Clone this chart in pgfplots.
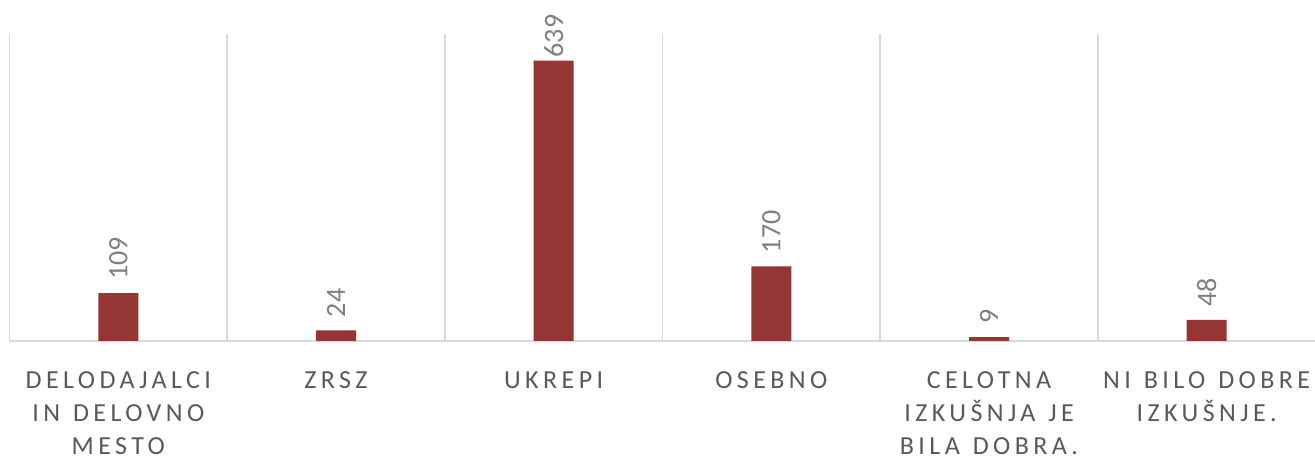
\documentclass[border=0pt]{standalone}
\usepackage{pgfplots}
\usepackage{pgfplotstable}
\pgfplotsset{compat=1.18}
\usepackage{fontspec}
\setmainfont{Carlito}
\newfontfamily\spaced[LetterSpace=17,WordSpace=1.25]{Carlito}
\definecolor{barred}{HTML}{943634}
\definecolor{gridgray}{HTML}{D9D9D9}
\definecolor{labgray}{HTML}{595959}
\definecolor{valgray}{HTML}{7F7F7F}
\pgfplotstableread{
x y off
0 109 6.5
1 24 6.5
2 639 1.5
3 170 6.5
4 9 6.5
5 48 6.5
}\datatable
\begin{document}
\begin{tikzpicture}
\begin{axis}[name=ax, scale only axis, width=653pt, height=153.5pt,
  xmin=-0.5, xmax=5.5, ymin=0, ymax=700,
  axis x line*=bottom, axis y line=none,
  x axis line style={draw=gridgray, line width=0.75pt},
  ybar, bar width=20pt,
  /pgf/number format/assume math mode=true,
  xtick={0,1,2,3,4,5},
  xticklabels={{DELODAJALCI\\IN DELOVNO\\MESTO},{ZRSZ},{UKREPI},{OSEBNO},{CELOTNA\\IZKUŠNJA JE\\BILA DOBRA.},{NI BILO DOBRE\\IZKUŠNJE.}},
  major tick length=0pt, minor tick length=0pt,
  minor xtick={-0.5,0.5,1.5,2.5,3.5,4.5,5.5},
  xminorgrids, minor grid style={draw=gridgray, line width=0.75pt},
  xticklabel style={font=\spaced\fontsize{13pt}{16.5pt}\selectfont, text=labgray, align=center, inner sep=0pt, anchor=north, yshift=-15pt},
  ytick=\empty,
  clip=false,
]
\addplot[fill=barred, draw=none,
  visualization depends on={\thisrow{off} \as \off},
  nodes near coords,
  every node near coord/.append style={rotate=90, anchor=west, font=\fontsize{14pt}{15pt}\selectfont, text=valgray, inner xsep=\off pt, inner ysep=0pt},
] table[x=x, y=y] {\datatable};
\end{axis}
\pgfresetboundingbox
\path ([shift={(-4.75pt,-59.5pt)}]ax.south west) rectangle ([shift={(-0.25pt,17pt)}]ax.north east);
\end{tikzpicture}
\end{document}
